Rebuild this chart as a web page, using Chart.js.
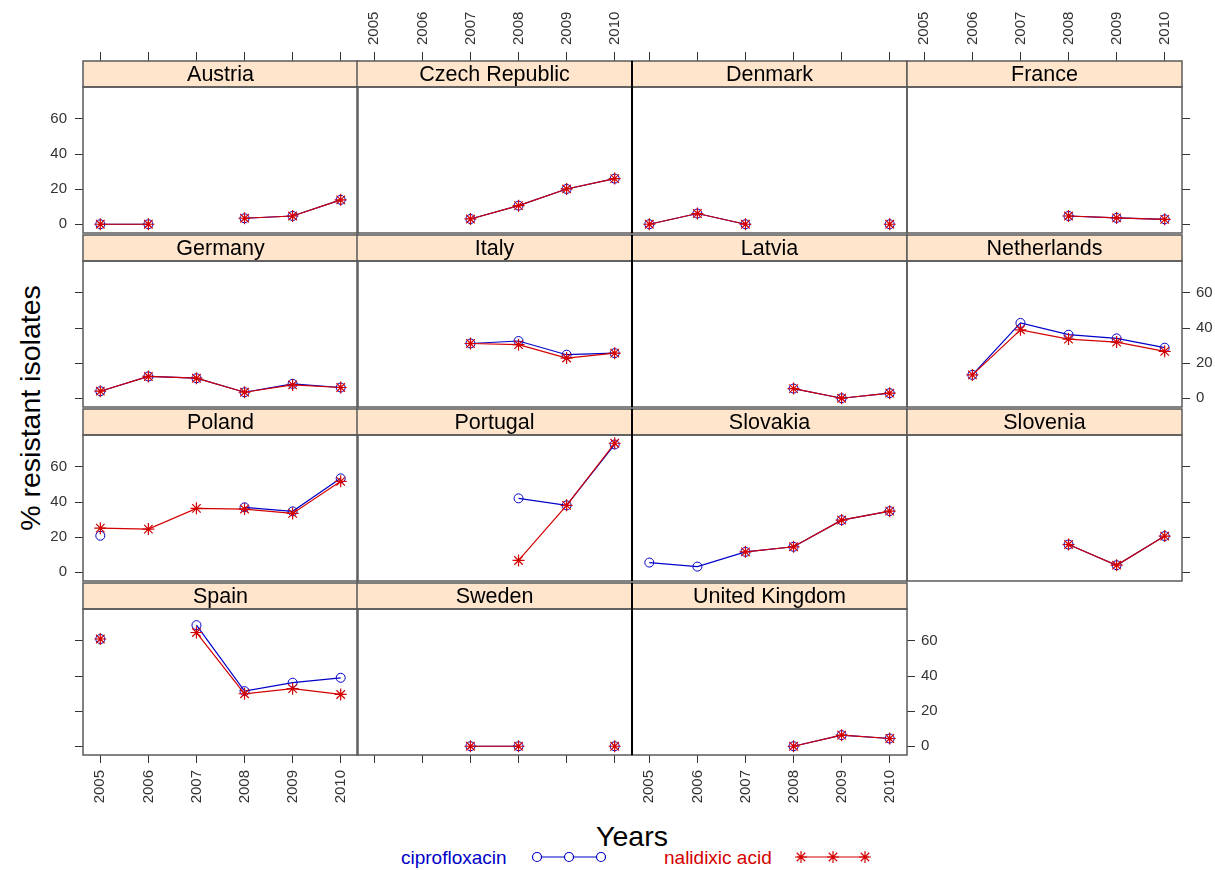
<!DOCTYPE html>
<html>
<head>
<meta charset="utf-8">
<script src="https://cdn.jsdelivr.net/npm/chart.js@4.4.1/dist/chart.umd.min.js"></script>
<style>
  html, body { margin: 0; padding: 0; background: #fff; }
  body { width: 1215px; height: 870px; position: relative; overflow: hidden;
         font-family: "Liberation Sans", Arial, sans-serif; }
  canvas.panel, canvas.key { position: absolute; }
  .txt { position: absolute; white-space: nowrap; line-height: 1; }
</style>
</head>
<body>
<div class="txt" id="ylab" style="left:30px; top:408px; font-size:28.5px; color:#000; transform: translate(-50%,-50%) rotate(-90deg);">% resistant isolates</div>
<div class="txt" id="xlab" style="left:632px; top:836px; font-size:28.5px; color:#000; transform: translate(-50%,-50%);">Years</div>
<div class="txt" style="left:401px; top:857px; font-size:19px; color:#0000C8; transform: translateY(-50%);">ciprofloxacin</div>
<div class="txt" style="left:664px; top:857px; font-size:19px; color:#D40000; transform: translateY(-50%);">nalidixic acid</div>
<canvas class="key" id="key" width="380" height="30" style="left:510px; top:842px;"></canvas>

<script>
// ---- data -------------------------------------------------------------
const years = [2005, 2006, 2007, 2008, 2009, 2010];
const yTicks = [0, 20, 40, 60];

const countries = [
  'Austria', 'Czech Republic', 'Denmark', 'France',
  'Germany', 'Italy', 'Latvia', 'Netherlands',
  'Poland', 'Portugal', 'Slovakia', 'Slovenia',
  'Spain', 'Sweden', 'United Kingdom'
];

// % resistant isolates per country, 2005..2010 (null = no data)
const ciprofloxacin = [
  [0, 0, null, 3.4, 4.7, 13.9],
  [null, null, 3.0, 10.6, 20.1, 26.0],
  [0, 6.1, 0, null, null, 0],
  [null, null, null, 4.7, 3.6, 2.8],
  [4.0, 12.4, 11.4, 3.4, 8.2, 6.1],
  [null, null, 31.2, 32.6, 24.8, 25.7],
  [null, null, null, 5.5, 0, 2.9],
  [null, 13.3, 42.9, 36.2, 34.1, 28.8],
  [20.8, null, null, 37.0, 34.7, 53.5],
  [null, null, null, 42.1, 38.1, 72.8],
  [5.5, 3.2, 11.6, 14.5, 29.7, 34.8],
  [null, null, null, 15.8, 4.0, 20.6],
  [61.1, null, 69.0, 31.4, 36.2, 39.0],
  [null, null, 0, 0, null, 0],
  [null, null, null, 0, 6.3, 4.4]
];

const nalidixicAcid = [
  [0, 0, null, 3.4, 4.7, 13.9],
  [null, null, 3.0, 10.6, 20.1, 26.0],
  [0, 6.1, 0, null, null, 0],
  [null, null, null, 4.7, 3.6, 2.8],
  [4.0, 12.4, 11.4, 3.4, 7.6, 6.1],
  [null, null, 31.2, 30.5, 22.9, 25.7],
  [null, null, null, 5.5, 0, 2.9],
  [null, 13.3, 39.0, 33.7, 32.0, 26.7],
  [25.1, 24.6, 36.4, 36.0, 33.5, 51.8],
  [null, null, null, 6.7, 38.1, 73.5],
  [null, null, 11.6, 14.5, 29.7, 34.8],
  [null, null, null, 15.8, 4.0, 20.6],
  [61.1, null, 64.8, 29.9, 32.8, 29.5],
  [null, null, 0, 0, null, 0],
  [null, null, null, 0, 6.3, 4.4]
];

// ---- look & layout ----------------------------------------------------
const BLUE = '#0000C8';
const RED = '#D40000';
const TICK_COLOR = '#333333';
const TICK_FONT = { family: '"Liberation Sans", Arial, sans-serif', size: 15 };
const STRIP_BG = '#FFE5CC';
const STRIP_FONT = '21.5px "Liberation Sans", Arial, sans-serif';

const X_MIN = 2004.64, X_MAX = 2010.36;
const Y_MIN = -5, Y_MAX = 78.2;

const PLOT_W = 275, PLOT_H = 146, STRIP_H = 26;
const PAD_L = 60, PAD_R = 60, PAD_T = 85, PAD_B = 60;
const COLS = 4;
const colLeft = [83, 357, 632, 907];
const rowStripTop = [61, 235, 409, 583];
const nRows = Math.ceil(countries.length / COLS);

// strip with the country name plus the panel frame
const panelFrame = {
  id: 'panelFrame',
  afterDraw(chart, args, opts) {
    const { ctx, chartArea: a } = chart;
    const w = a.right - a.left;
    ctx.save();
    ctx.fillStyle = STRIP_BG;
    ctx.fillRect(a.left, a.top - STRIP_H, w, STRIP_H);
    ctx.strokeStyle = '#5a5a5a';
    ctx.lineWidth = 1.5;
    ctx.strokeRect(a.left, a.top - STRIP_H, w, STRIP_H);
    ctx.strokeRect(a.left, a.top, w, a.bottom - a.top);
    if (opts.darkLeft) {
      ctx.strokeStyle = '#000';
      ctx.lineWidth = 2;
      ctx.beginPath();
      ctx.moveTo(a.left, a.top - STRIP_H);
      ctx.lineTo(a.left, a.bottom);
      ctx.stroke();
    }
    ctx.fillStyle = '#000';
    ctx.font = STRIP_FONT;
    ctx.textAlign = 'center';
    ctx.textBaseline = 'middle';
    ctx.fillText(opts.label, (a.left + a.right) / 2, a.top - STRIP_H / 2 + 1);
    ctx.restore();
  }
};

function xAxis(position, showTicks, showLabels, size, tickLen, pad, labelShift) {
  return {
    type: 'linear', position, min: X_MIN, max: X_MAX,
    afterBuildTicks: s => { s.ticks = years.map(v => ({ value: v })); },
    afterFit: s => { s.height = size; },
    grid: { display: showTicks, drawOnChartArea: false, drawTicks: true,
            tickLength: tickLen, color: TICK_COLOR, lineWidth: 1 },
    border: { display: false },
    ticks: { display: showLabels, autoSkip: false, minRotation: 90, maxRotation: 90,
             padding: pad, labelOffset: labelShift, color: TICK_COLOR, font: TICK_FONT,
             callback: v => String(v) }
  };
}

function yAxis(position, showTicks, showLabels, size, pad) {
  return {
    type: 'linear', position, min: Y_MIN, max: Y_MAX,
    afterBuildTicks: s => { s.ticks = yTicks.map(v => ({ value: v })); },
    afterFit: s => { s.width = size; },
    grid: { display: showTicks, drawOnChartArea: false, drawTicks: true,
            tickLength: 8, color: TICK_COLOR, lineWidth: 1 },
    border: { display: false },
    ticks: { display: showLabels, autoSkip: false, padding: pad,
             color: TICK_COLOR, font: TICK_FONT, callback: v => String(v) }
  };
}

const toPoints = vals => years.map((yr, k) => ({ x: yr, y: vals[k] }));

countries.forEach((name, i) => {
  const r = Math.floor(i / COLS), c = i % COLS;
  const lastInRow = (c === COLS - 1) || (i === countries.length - 1);
  const firstRow = r === 0, lastRow = r === nRows - 1;

  const cv = document.createElement('canvas');
  cv.className = 'panel';
  cv.width = PAD_L + PLOT_W + PAD_R;
  cv.height = PAD_T + PLOT_H + PAD_B;
  cv.style.left = (colLeft[c] - PAD_L) + 'px';
  cv.style.top = (rowStripTop[r] + STRIP_H - PAD_T) + 'px';
  document.body.appendChild(cv);

  new Chart(cv, {
    type: 'line',
    data: {
      datasets: [
        {
          label: 'nalidixic acid', data: toPoints(nalidixicAcid[i]), order: 0,
          borderColor: RED, borderWidth: 1.2, tension: 0, spanGaps: false,
          pointStyle: 'star', pointRadius: 6, pointBorderColor: RED,
          pointBackgroundColor: RED, pointBorderWidth: 1.2
        },
        {
          label: 'ciprofloxacin', data: toPoints(ciprofloxacin[i]), order: 1,
          borderColor: BLUE, borderWidth: 1.2, tension: 0, spanGaps: false,
          pointStyle: 'circle', pointRadius: 4.5, pointBorderColor: BLUE,
          pointBackgroundColor: 'rgba(0,0,0,0)', pointBorderWidth: 1
        }
      ]
    },
    options: {
      responsive: false, animation: false, devicePixelRatio: 1, events: [],
      layout: { padding: 0, autoPadding: false },
      plugins: {
        legend: { display: false }, tooltip: { enabled: false },
        panelFrame: { label: name, darkLeft: c === 2 }
      },
      scales: {
        x: xAxis('bottom', lastRow, lastRow && c % 2 === 0, PAD_B, 8, 7, 0),
        xTop: xAxis('top', firstRow, firstRow && c % 2 === 1, PAD_T, STRIP_H + 9, 7, 18),
        y: yAxis('left', c === 0, c === 0 && r % 2 === 0, PAD_L, 8),
        yRight: yAxis('right', lastInRow, lastInRow && r % 2 === 1, PAD_R, 6)
      }
    },
    plugins: [panelFrame]
  });
});

// key: line with three markers for each series
(function drawKey() {
  const ctx = document.getElementById('key').getContext('2d');
  const ox = 510, cy = 15;
  // ciprofloxacin
  ctx.strokeStyle = BLUE; ctx.lineWidth = 1.2;
  ctx.beginPath(); ctx.moveTo(537 - ox, cy); ctx.lineTo(601 - ox, cy); ctx.stroke();
  [537, 569, 601].forEach(x => {
    ctx.beginPath(); ctx.arc(x - ox, cy, 4.5, 0, Math.PI * 2); ctx.fillStyle = '#fff'; ctx.fill(); ctx.stroke();
  });
  // nalidixic acid
  ctx.strokeStyle = RED;
  ctx.beginPath(); ctx.moveTo(797 - ox, cy); ctx.lineTo(869 - ox, cy); ctx.stroke();
  [801, 833, 865].forEach(x => {
    const px = x - ox, r = 6;
    ctx.beginPath();
    for (let k = 0; k < 4; k++) {
      const ang = k * Math.PI / 4;
      ctx.moveTo(px - r * Math.cos(ang), cy - r * Math.sin(ang));
      ctx.lineTo(px + r * Math.cos(ang), cy + r * Math.sin(ang));
    }
    ctx.stroke();
  });
})();
</script>
</body>
</html>
